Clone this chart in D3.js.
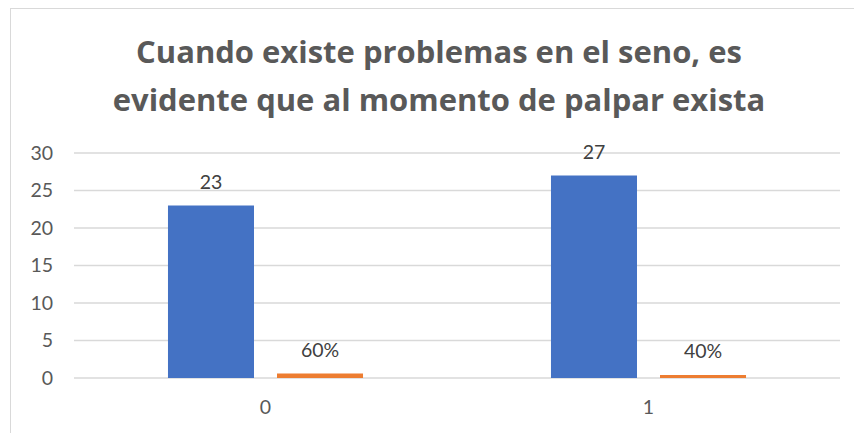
<!DOCTYPE html>
<html>
<head>
<meta charset="utf-8">
<script src="https://cdn.jsdelivr.net/npm/d3@7"></script>
<style>
  body { margin: 0; background: #fff; }
  svg text { font-family: Lato, "Open Sans", sans-serif; }
</style>
</head>
<body>
<div id="canvas"></div>
<script>
const w = 854, h = 433;

// data
const categories = ["0", "1"];
const counts = [23, 27];
const percents = [0.6, 0.4];
const percentLabels = ["60%", "40%"];
const series = ["count", "percent"];
const colors = ["#4472c4", "#ed7d31"];
const yTicks = [0, 5, 10, 15, 20, 25, 30];
const titleLines = ["Cuando existe problemas en el seno, es", "evidente que al momento de palpar exista"];

const rows = categories.map((c, i) => ({
  cat: c,
  values: [
    { key: "count", v: counts[i], label: String(counts[i]) },
    { key: "percent", v: percents[i], label: percentLabels[i] }
  ]
}));

const plot = { left: 74, right: 840, top: 153, bottom: 378 };

let svg = d3.select("#canvas")
  .append("svg")
    .attr("width", w)
    .attr("height", h)
    .attr("viewBox", [0, 0, w, h]);

svg.append("rect")
  .attr("x", 10.5).attr("y", 8.5)
  .attr("width", 900).attr("height", 500)
  .attr("fill", "#fff")
  .attr("stroke", "#d9d9d9");

let title = svg.append("text")
  .attr("x", 439)
  .attr("text-anchor", "middle")
  .attr("fill", "#595959")
  .style("font-family", "'Open Sans', sans-serif")
  .style("font-size", "26px")
  .style("font-weight", "bold");
title.selectAll("tspan")
  .data(titleLines)
  .enter().append("tspan")
    .attr("x", 439)
    .attr("y", (d, i) => 63 + i * 48)
    .text(d => d);

// fit first line to the width it has in the picture
let tl = title.select("tspan").node().getComputedTextLength();
title.style("font-size", (26 * 606 / tl) + "px");

let y = d3.scaleLinear().domain([0, 30]).range([plot.bottom, plot.top]);
let x0 = d3.scaleBand().domain(categories).range([plot.left, plot.right]);
let x1 = d3.scaleBand().domain(series).range([0, x0.bandwidth()])
  .paddingInner(0.211).paddingOuter(0.862);

// gridlines
svg.append("g")
  .selectAll("line")
  .data(yTicks)
  .enter().append("line")
    .attr("x1", plot.left).attr("x2", plot.right)
    .attr("y1", d => y(d)).attr("y2", d => y(d))
    .attr("stroke", "#d9d9d9")
    .attr("stroke-width", 1.5);

let yAxis = d3.axisLeft(y).tickValues(yTicks).tickSize(0).tickPadding(0);
let gY = svg.append("g")
  .attr("transform", "translate(53,0)")
  .call(yAxis);
gY.select(".domain").remove();
gY.selectAll("text")
  .attr("fill", "#595959")
  .style("font-size", "19.5px")
  .style("font-family", "Lato, sans-serif");

let xAxis = d3.axisBottom(x0).tickSize(0).tickPadding(0);
let gX = svg.append("g")
  .attr("transform", "translate(0,400)")
  .call(xAxis);
gX.select(".domain").remove();
gX.selectAll("text")
  .attr("fill", "#595959")
  .style("font-size", "19.5px")
  .style("font-family", "Lato, sans-serif");

let groups = svg.selectAll(".cat")
  .data(rows)
  .enter().append("g")
    .attr("class", "cat")
    .attr("transform", d => "translate(" + x0(d.cat) + ",0)");

groups.selectAll("rect")
  .data(d => d.values)
  .enter().append("rect")
    .attr("x", d => x1(d.key))
    .attr("width", x1.bandwidth())
    .attr("y", d => y(d.v))
    .attr("height", d => y(0) - y(d.v))
    .attr("fill", (d, i) => colors[i]);

groups.selectAll(".lbl")
  .data(d => d.values)
  .enter().append("text")
    .attr("class", "lbl")
    .attr("x", d => x1(d.key) + x1.bandwidth() / 2)
    .attr("y", d => y(d.v) - 17)
    .attr("text-anchor", "middle")
    .attr("fill", "#404040")
    .style("font-size", "19.5px")
    .text(d => d.label);
</script>
</body>
</html>
